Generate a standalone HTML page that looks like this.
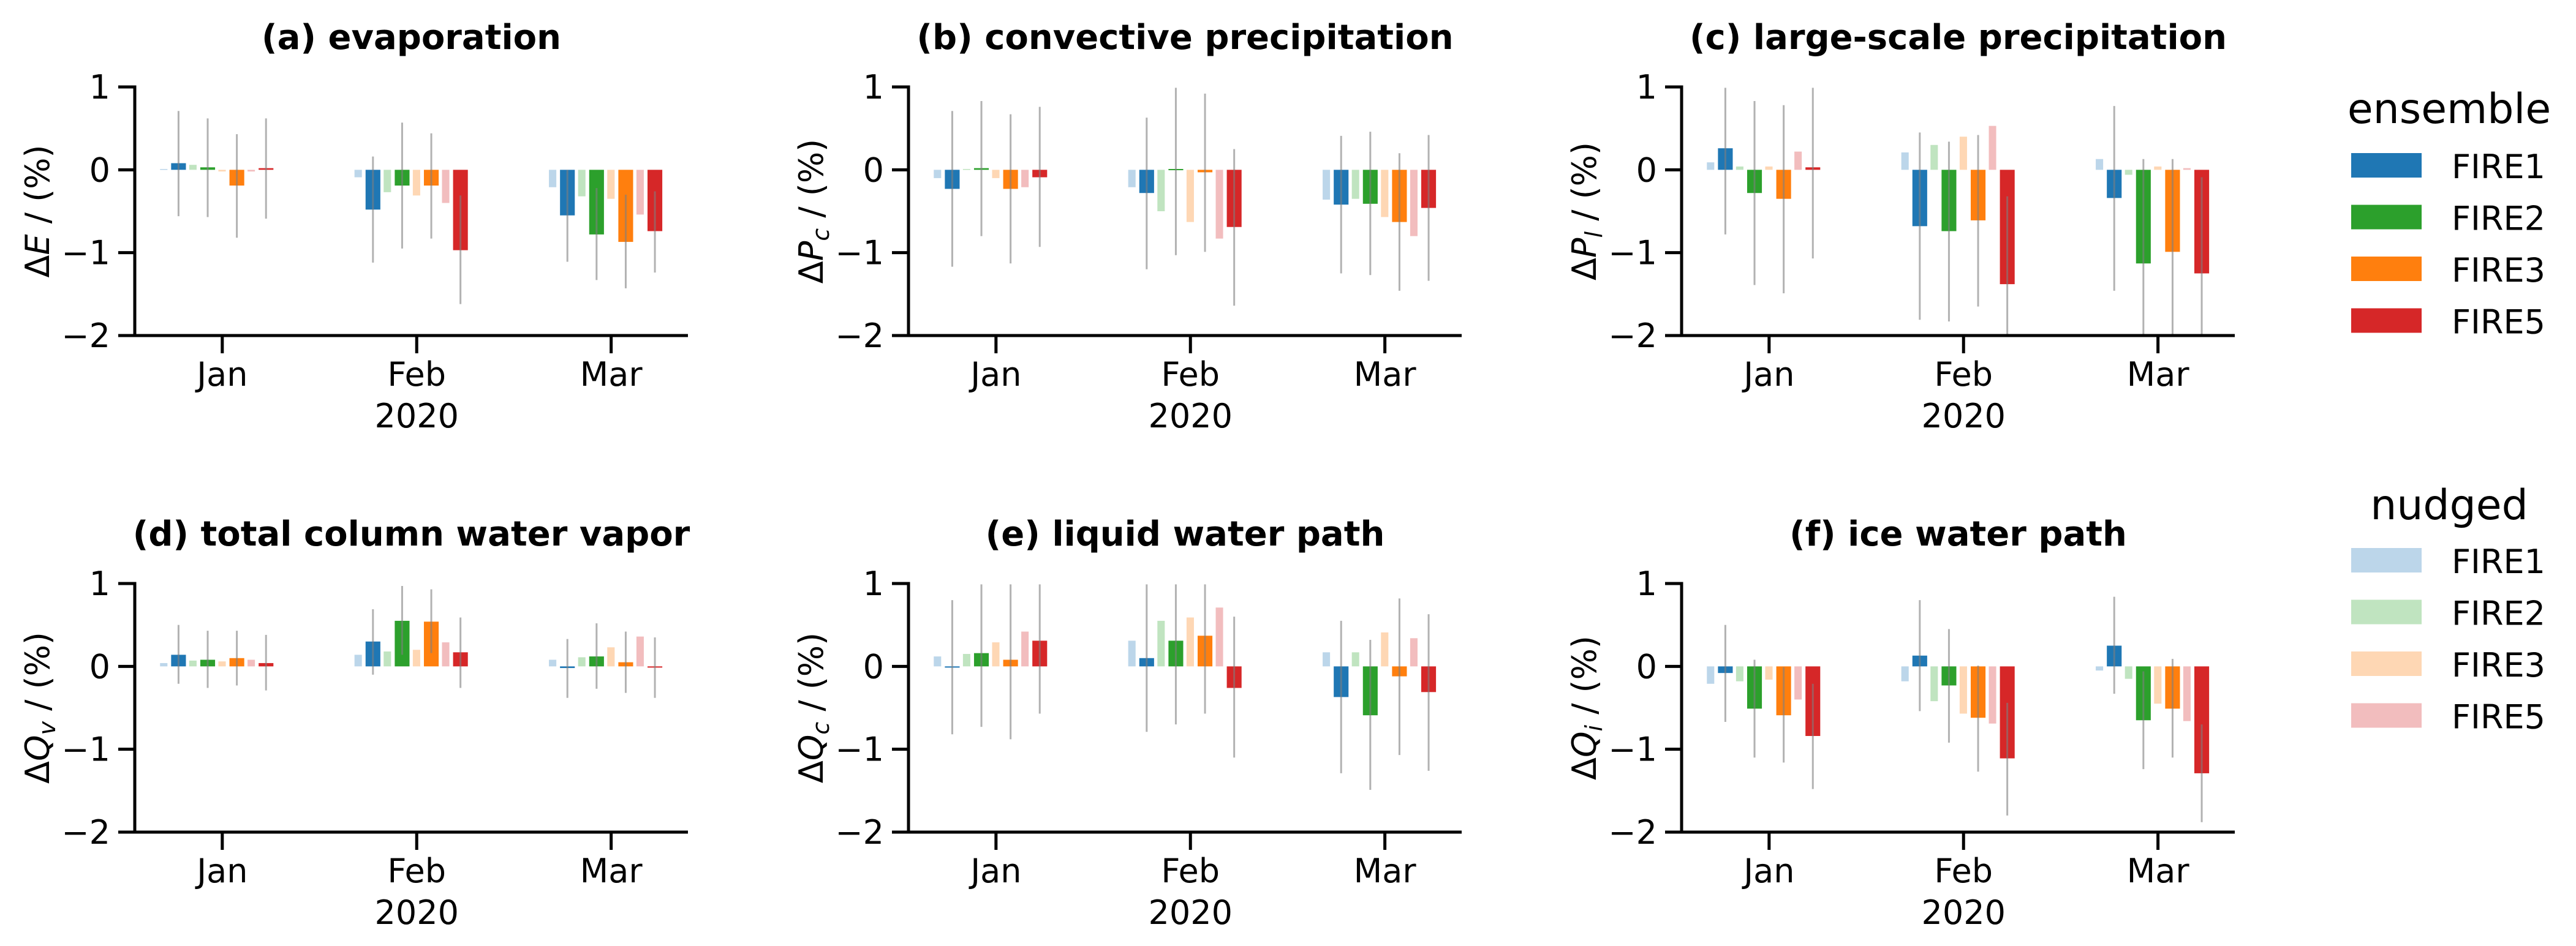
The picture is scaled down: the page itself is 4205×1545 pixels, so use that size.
<!DOCTYPE html>
<html><head><meta charset="utf-8">
<style>
html,body{margin:0;padding:0;background:#fff;}
svg{display:block;font-family:"DejaVu Sans","Liberation Sans",sans-serif;}
</style></head>
<body>
<svg id="fig" width="4205" height="1545" viewBox="0 0 4205 1545" xmlns="http://www.w3.org/2000/svg"></svg>
<script>
// ---------- data ----------
const months = ["Jan","Feb","Mar"];
const ensembles = ["FIRE1","FIRE2","FIRE3","FIRE5"];
const yTicks = [1,0,-1,-2];
const yTickLabels = ["1","0","\u22121","\u22122"];
const panelTitles = ["(a) evaporation","(b) convective precipitation","(c) large-scale precipitation","(d) total column water vapor","(e) liquid water path","(f) ice water path"];
const yVars = [["E",""],["P","c"],["P","l"],["Q","v"],["Q","c"],["Q","i"]];
const nudgedA = [[0.01,0.06,-0.02,-0.02],[-0.09,-0.27,-0.31,-0.40],[-0.21,-0.32,-0.35,-0.54]];
const ensA    = [[0.08,0.03,-0.19,0.02],[-0.48,-0.19,-0.19,-0.97],[-0.55,-0.78,-0.87,-0.74]];
const errHiA  = [[0.71,0.62,0.43,0.62],[0.16,0.57,0.44,-0.31],[0.0,-0.22,-0.30,-0.26]];
const errLoA  = [[-0.56,-0.57,-0.82,-0.59],[-1.12,-0.95,-0.83,-1.62],[-1.11,-1.33,-1.43,-1.24]];
const nudgedB = [[-0.10,0.01,-0.10,-0.21],[-0.21,-0.50,-0.63,-0.83],[-0.36,-0.35,-0.57,-0.80]];
const ensB    = [[-0.23,0.02,-0.23,-0.09],[-0.28,0.01,-0.03,-0.69],[-0.42,-0.41,-0.63,-0.46]];
const errHiB  = [[0.71,0.83,0.67,0.76],[0.63,0.99,0.92,0.25],[0.41,0.46,0.20,0.42]];
const errLoB  = [[-1.17,-0.80,-1.13,-0.93],[-1.20,-1.03,-0.99,-1.64],[-1.25,-1.27,-1.46,-1.34]];
const nudgedC = [[0.09,0.04,0.04,0.22],[0.21,0.30,0.40,0.53],[0.13,-0.06,0.04,0.02]];
const ensC    = [[0.26,-0.28,-0.35,0.03],[-0.68,-0.74,-0.61,-1.38],[-0.34,-1.13,-0.99,-1.25]];
const errHiC  = [[0.99,0.83,0.78,0.99],[0.45,0.34,0.42,-0.32],[0.77,0.13,0.13,-0.09]];
const errLoC  = [[-0.78,-1.39,-1.49,-1.07],[-1.81,-1.83,-1.65,-2.1],[-1.46,-2.1,-2.1,-2.1]];
const nudgedD = [[0.04,0.07,0.06,0.08],[0.14,0.18,0.20,0.29],[0.08,0.11,0.23,0.36]];
const ensD    = [[0.14,0.08,0.10,0.04],[0.30,0.55,0.54,0.17],[-0.02,0.12,0.05,-0.01]];
const errHiD  = [[0.50,0.43,0.43,0.38],[0.69,0.97,0.93,0.59],[0.33,0.52,0.42,0.35]];
const errLoD  = [[-0.21,-0.26,-0.23,-0.29],[-0.10,0.14,0.16,-0.26],[-0.38,-0.27,-0.32,-0.38]];
const nudgedE = [[0.12,0.15,0.29,0.42],[0.31,0.55,0.59,0.71],[0.17,0.17,0.41,0.34]];
const ensE    = [[-0.01,0.16,0.08,0.31],[0.10,0.31,0.37,-0.26],[-0.37,-0.59,-0.12,-0.31]];
const errHiE  = [[0.80,0.99,0.99,0.99],[0.99,0.99,0.99,0.60],[0.55,0.32,0.82,0.63]];
const errLoE  = [[-0.82,-0.73,-0.88,-0.57],[-0.79,-0.70,-0.57,-1.10],[-1.29,-1.49,-1.07,-1.26]];
const nudgedF = [[-0.21,-0.18,-0.16,-0.40],[-0.18,-0.42,-0.57,-0.69],[-0.05,-0.15,-0.45,-0.66]];
const ensF    = [[-0.08,-0.51,-0.59,-0.84],[0.13,-0.23,-0.62,-1.11],[0.25,-0.65,-0.51,-1.29]];
const errHiF  = [[0.50,0.08,-0.01,-0.21],[0.80,0.45,0.01,-0.44],[0.84,-0.06,0.09,-0.70]];
const errLoF  = [[-0.67,-1.10,-1.16,-1.48],[-0.54,-0.92,-1.27,-1.80],[-0.33,-1.24,-1.10,-1.88]];

const panels = [
 [nudgedA,ensA,errHiA,errLoA],[nudgedB,ensB,errHiB,errLoB],[nudgedC,ensC,errHiC,errLoC],
 [nudgedD,ensD,errHiD,errLoD],[nudgedE,ensE,errHiE,errLoE],[nudgedF,ensF,errHiF,errLoF]];

const darkCol = ["#1f77b4","#2ca02c","#ff7f0e","#d62728"];
const lightCol = ["#bcd6ea","#c0e4c0","#fed7b4","#f2bdbe"];

const NS = "http://www.w3.org/2000/svg";
const svg = document.getElementById("fig");
function mk(tag, attrs, parent){
  const e = document.createElementNS(NS, tag);
  for (const k in attrs) e.setAttribute(k, attrs[k]);
  (parent||svg).appendChild(e);
  return e;
}
const colX = [220, 1483, 2745];
const rowY = [142, 953];
const AW = 903, AH = 406;
const XMIN = -0.45, XMAX = 2.395, YMIN = -2, YMAX = 1;

panels.forEach((p, idx) => {
  const [nud, ens, hi, lo] = p;
  const ox = colX[idx % 3], oy = rowY[Math.floor(idx / 3)];
  const xs = v => ox + (v - XMIN) / (XMAX - XMIN) * AW;
  const ys = v => oy + (YMAX - v) / (YMAX - YMIN) * AH;
  const g = mk("g", {});
  
  
  const cid = "clip" + idx;
  const cp = mk("clipPath", {id: cid}, g);
  mk("rect", {x: ox, y: oy, width: AW, height: AH}, cp);
  const plot = mk("g", {"clip-path": "url(#" + cid + ")"}, g);

  months.forEach((m, mi) => {
    ensembles.forEach((en, ei) => {
      const c = mi + (ei - 1.5) * 0.15;
      const lc = c - 0.076;
      const lw = 0.038, dw = 0.076;
      const nv = nud[mi][ei], ev = ens[mi][ei];
      const r1 = mk("rect", {x: xs(lc - lw/2), y: Math.min(ys(nv), ys(0)), width: xs(lw) - xs(0), height: Math.max(1.5, Math.abs(ys(nv) - ys(0))), fill: lightCol[ei]}, plot);
      
      
      const r2 = mk("rect", {x: xs(c - dw/2), y: Math.min(ys(ev), ys(0)), width: xs(dw) - xs(0), height: Math.max(2, Math.abs(ys(ev) - ys(0))), fill: darkCol[ei]}, plot);
      
      
      const l = mk("line", {x1: xs(c), x2: xs(c), y1: ys(hi[mi][ei]), y2: ys(lo[mi][ei]), stroke: "#7f7f7f", "stroke-opacity": 0.6, "stroke-width": 3}, plot);
      
      
    });
  });

  const ya = mk("line", {x1: ox, x2: ox, y1: ys(1) - 2.5, y2: ys(-2) + 2.5, stroke: "#000", "stroke-width": 5}, g);
  
  
  const xa = mk("line", {x1: ox - 2.5, x2: ox + AW, y1: ys(-2), y2: ys(-2), stroke: "#000", "stroke-width": 5}, g);
  
  

  yTicks.forEach((t, ti) => {
    mk("line", {x1: ox - 27, x2: ox, y1: ys(t), y2: ys(t), stroke: "#000", "stroke-width": 5}, g);
    const tl = mk("text", {x: ox - 40, y: ys(t) + 19, "text-anchor": "end", "font-size": 54, fill: "#000"}, g);
    tl.textContent = yTickLabels[ti];
    
    
  });
  months.forEach((m, mi) => {
    mk("line", {x1: xs(mi), x2: xs(mi), y1: ys(-2), y2: ys(-2) + 29, stroke: "#000", "stroke-width": 5}, g);
    const tl = mk("text", {x: xs(mi), y: oy + 488, "text-anchor": "middle", "font-size": 54, fill: "#000"}, g);
    tl.textContent = m;
    
    
  });
  const yr = mk("text", {x: xs(1), y: oy + 556, "text-anchor": "middle", "font-size": 54, fill: "#000"}, g);
  yr.textContent = "2020";
  
  

  const ti = mk("text", {x: ox + AW/2, y: oy - 62, "text-anchor": "middle", "font-size": 56, "font-weight": "bold", fill: "#000"}, g);
  ti.textContent = panelTitles[idx];
  
  

  const lx = ox - 140, ly = oy + AH/2;
  const yl = mk("text", {x: lx, y: ly, "text-anchor": "middle", "font-size": 54, fill: "#000", transform: "rotate(-90 " + lx + " " + ly + ")"}, g);
  
  
  const v = yVars[idx];
  const t1 = mk("tspan", {}, yl); t1.textContent = "\u0394";
  const t2 = mk("tspan", {"font-style": "italic"}, yl); t2.textContent = v[0];
  if (v[1]) {
    const t3 = mk("tspan", {"font-style": "italic", "font-size": 38, dy: 10}, yl); t3.textContent = v[1];
    const t4 = mk("tspan", {dy: -10}, yl); t4.textContent = " / (%)";
  } else {
    const t4 = mk("tspan", {}, yl); t4.textContent = " / (%)";
  }
});

function legend(title, cols, titleY, firstY, name){
  const g = mk("g", {});
  
  
  const t = mk("text", {x: 3998, y: titleY, "text-anchor": "middle", "font-size": 68, fill: "#000"}, g);
  t.textContent = title;
  
  
  ensembles.forEach((en, i) => {
    const y = firstY + i * 84.5;
    const r = mk("rect", {x: 3838, y: y - 40, width: 115, height: 40, fill: cols[i]}, g);
    
    
    const l = mk("text", {x: 4002, y: y + 1, "font-size": 54, fill: "#000"}, g);
    l.textContent = en;
    
    
  });
}
legend("ensemble", darkCol, 201, 290, "ensemble-legend");
legend("nudged", lightCol, 848, 935, "nudged-legend");
</script>
</body></html>
